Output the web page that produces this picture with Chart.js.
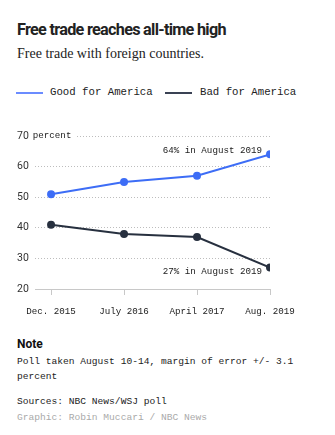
<!DOCTYPE html>
<html><head><meta charset="utf-8">
<script src="https://cdn.jsdelivr.net/npm/chart.js@4"></script>
<style>
html,body{margin:0;padding:0;background:#fff;width:335px;height:435px;overflow:hidden;position:relative}
.t{position:absolute;left:17px;white-space:nowrap;line-height:1}
#title{top:20px;font:bold 16.2px Roboto,"Liberation Sans",sans-serif;color:#222;letter-spacing:-0.7px}
#sub{top:46px;font:14px "Liberation Serif","DejaVu Serif",serif;color:#222}
.leg{position:absolute;top:92px;height:2px}
.legt{position:absolute;top:86px;font:10.7px "Liberation Mono","DejaVu Sans Mono",monospace;color:#222;white-space:nowrap}
#note{top:337px;font:bold 12px Roboto,"Liberation Sans",sans-serif;color:#111}
.mono{font:9.6px "Liberation Mono","DejaVu Sans Mono",monospace;color:#222}
#wrap{position:absolute;left:0;top:100px;width:335px;height:230px}
</style></head>
<body>
<div class="t" id="title">Free trade reaches all-time high</div>
<div class="t" id="sub">Free trade with foreign countries.</div>
<div class="leg" style="left:16px;width:27px;background:#6b8cff"></div>
<div class="legt" style="left:50px">Good for America</div>
<div class="leg" style="left:165px;width:27px;background:#3a4254"></div>
<div class="legt" style="left:200px">Bad for America</div>
<div id="wrap"><canvas id="c"></canvas></div>
<div class="t" id="note">Note</div>
<div class="t mono" style="top:356px">Poll taken August 10-14, margin of error +/- 3.1</div>
<div class="t mono" style="top:371px">percent</div>
<div class="t mono" style="top:396px">Sources: NBC News/WSJ poll</div>
<div class="t mono" style="top:412px;color:#aaa">Graphic: Robin Muccari / NBC News</div>
<script>
const categories = ["Dec. 2015", "July 2016", "April 2017", "Aug. 2019"];
const goodForAmerica = [51, 55, 57, 64];
const badForAmerica = [41, 38, 37, 27];
const yTicks = [20, 30, 40, 50, 60, 70];
const endLabels = ["64% in August 2019", "27% in August 2019"];

const MONO = '"Liberation Mono","DejaVu Sans Mono",monospace';
const SANS = 'Roboto,"Liberation Sans",sans-serif';

const annot = {
  id: 'annot',
  afterDraw(chart) {
    const ctx = chart.ctx;
    ctx.save();
    const ys = chart.scales.y;
    const top = ys.getPixelForValue(yTicks[yTicks.length - 1]);
    ctx.font = '10.5px ' + SANS;
    const w = ctx.measureText(String(yTicks[yTicks.length - 1])).width;
    const x0 = ys.left + w + 4;
    ctx.font = '9.2px ' + MONO;
    const pw = ctx.measureText('percent').width;
    ctx.fillStyle = '#fff';
    ctx.fillRect(x0 - 2, top - 5, pw + 6, 10);
    ctx.fillStyle = '#222';
    ctx.textBaseline = 'middle';
    ctx.textAlign = 'left';
    ctx.fillText('percent', x0, top);
    ctx.textAlign = 'right';
    [[0, -4], [1, 4]].forEach(([di, dy]) => {
      const meta = chart.getDatasetMeta(di);
      const p = meta.data[meta.data.length - 1];
      ctx.fillText(endLabels[di], p.x - 8, p.y + dy);
    });
    ctx.restore();
  }
};

new Chart(document.getElementById('c'), {
  type: 'line',
  data: {
    datasets: [
      {label: 'Good for America', data: goodForAmerica.map((v, i) => ({x: i, y: v})),
       borderColor: '#3d6df6', backgroundColor: '#3d6df6', borderWidth: 2, pointRadius: 3, pointHoverRadius: 3, tension: 0},
      {label: 'Bad for America', data: badForAmerica.map((v, i) => ({x: i, y: v})),
       borderColor: '#27303f', backgroundColor: '#27303f', borderWidth: 2, pointRadius: 3, pointHoverRadius: 3, tension: 0}
    ]
  },
  options: {
    responsive: true, maintainAspectRatio: false, animation: false,
    layout: {padding: {top: 36, left: 17, right: 65, bottom: 0}},
    plugins: {legend: {display: false}, tooltip: {enabled: false}},
    scales: {
      x: {
        type: 'linear', min: -0.22, max: categories.length - 1,
        afterBuildTicks: s => { s.ticks = categories.map((c, i) => ({value: i})); },
        afterFit: s => { s.height = 41; },
        grid: {drawOnChartArea: false, drawTicks: true, tickLength: 6, color: '#c8c8c8'},
        border: {display: true, color: '#c8c8c8', width: 1},
        ticks: {callback: v => categories[v], padding: 11, maxRotation: 0, autoSkip: false,
                font: {family: MONO, size: 9.2}, color: '#222'}
      },
      y: {
        min: 20, max: 70,
        afterBuildTicks: s => { s.ticks = yTicks.map(v => ({value: v})); },
        afterFit: s => { s.width = 18; },
        grid: {drawTicks: false, color: c => c.tick && c.tick.value === 20 ? 'rgba(0,0,0,0)' : '#bdbdbd', lineWidth: 1},
        border: {display: false, dash: [1, 2]},
        ticks: {crossAlign: 'far', padding: 0, font: {family: SANS, size: 10.5}, color: '#333'}
      }
    }
  },
  plugins: [annot]
});
</script>
</body></html>
